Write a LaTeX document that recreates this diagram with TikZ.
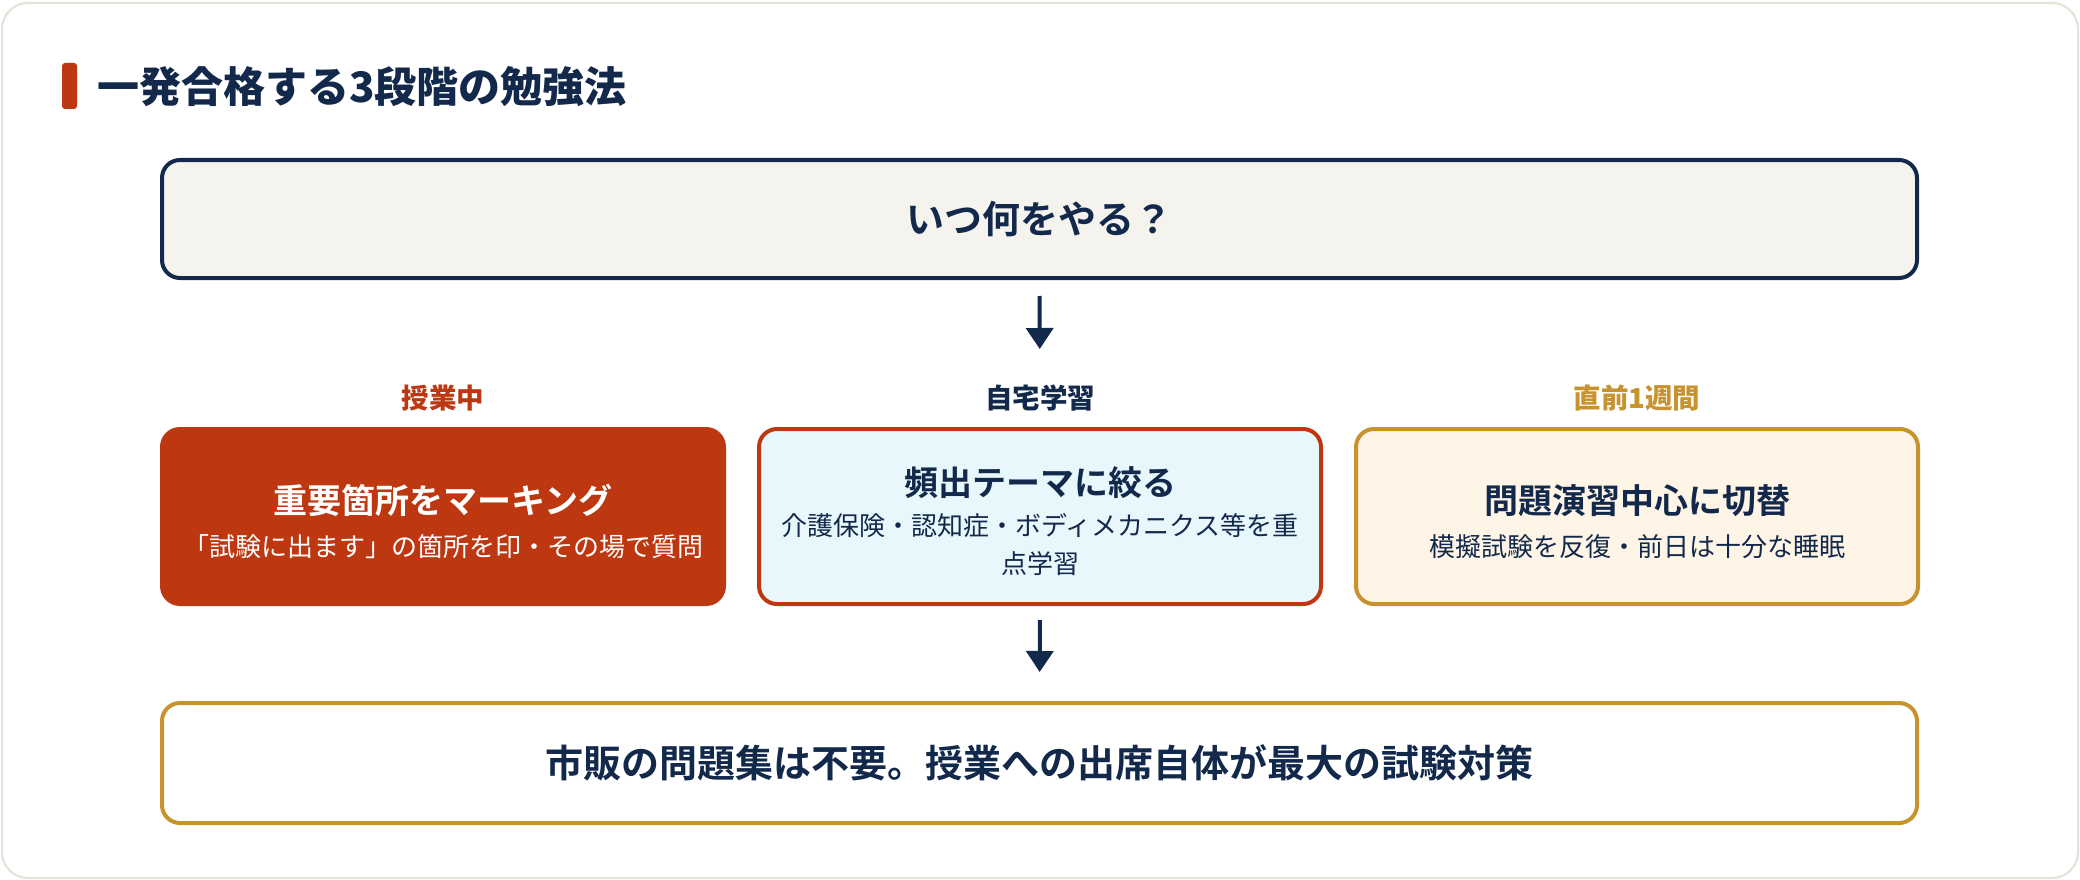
\documentclass[tikz,border=0pt]{standalone}
\usepackage{fontspec}
\setmainfont{Noto Sans CJK JP}[BoldFont={Noto Sans CJK JP Bold}]
\newfontfamily\heavyjp{Noto Sans CJK JP Black}
\usetikzlibrary{arrows.meta,calc}
\definecolor{navy}{HTML}{13294B}
\definecolor{rust}{HTML}{BD3810}
\definecolor{gold}{HTML}{C8922F}
\definecolor{qfill}{HTML}{F5F3EE}
\definecolor{bluefill}{HTML}{E8F7FC}
\definecolor{creamfill}{HTML}{FEF5E6}
\definecolor{cardline}{HTML}{E4E1D6}
\begin{document}
\begin{tikzpicture}[x=1pt,y=-1pt,
  panel/.style={rounded corners=18pt, line width=4pt, inner sep=0pt},
  ttl/.style={font=\fontsize{34pt}{40pt}\selectfont\bfseries, inner sep=0pt},
  subt/.style={font=\fontsize{26pt}{32pt}\selectfont, inner sep=0pt},
  lab/.style={font=\fontsize{27.5pt}{30pt}\selectfont\heavyjp, inner sep=0pt},
  big/.style={font=\fontsize{38pt}{44pt}\selectfont\bfseries, text=navy},
  arr/.style={draw=navy, line width=4pt, -{Triangle[width=27pt,length=21pt]}}
]
\useasboundingbox (0,0) rectangle (2080,880);
\fill[white] (0,0) rectangle (2080,880);
\draw[cardline, line width=2pt, fill=white, rounded corners=26pt] (2,3) rectangle (2078,878);

% title
\fill[rust, rounded corners=3pt] (62,63) rectangle (77,109);
\node[anchor=west, inner sep=0pt, text=navy, font=\fontsize{42pt}{48pt}\selectfont\heavyjp] (title) at (97,87) {一発合格する3段階の勉強法};

% top question box
\node[panel, draw=navy, fill=qfill, minimum width=1755pt, minimum height=118pt, big] (q) at (1039.5,219) {いつ何をやる？};

% labels
\node[lab, text=rust] (l1) at (443,398) {授業中};
\node[lab, text=navy] (l2) at (1040,398) {自宅学習};
\node[lab, text=gold] (l3) at (1637,398) {直前1週間};

% three boxes
\node[panel, draw=rust, fill=rust, minimum width=562pt, minimum height=175pt] (b1) at (443,516.5) {};
\node[panel, draw=rust, fill=bluefill, minimum width=562pt, minimum height=175pt] (b2) at (1040,516.5) {};
\node[panel, draw=gold, fill=creamfill, minimum width=562pt, minimum height=175pt] (b3) at (1637,516.5) {};

\node[ttl, text=white] (b1t) at ($(b1.center)+(0,-16)$) {重要箇所をマーキング};
\node[subt, text=white] (b1s) at ($(b1.center)+(0,30)$) {「試験に出ます」の箇所を印・その場で質問};

\node[ttl, text=navy] (b2t) at ($(b2.center)+(0,-34)$) {頻出テーマに絞る};
\node[subt, text=navy] (b2s) at ($(b2.center)+(0,9)$) {介護保険・認知症・ボディメカニクス等を重};
\node[subt, text=navy] (b2u) at ($(b2.center)+(0,47)$) {点学習};

\node[ttl, text=navy] (b3t) at ($(b3.center)+(0,-16)$) {問題演習中心に切替};
\node[subt, text=navy] (b3s) at ($(b3.center)+(0,30)$) {模擬試験を反復・前日は十分な睡眠};

% bottom box
\node[panel, draw=gold, fill=white, minimum width=1755pt, minimum height=120pt, big] (c) at (1039.5,763) {市販の問題集は不要。授業への出席自体が最大の試験対策};

% arrows
\draw[arr, shorten <=16pt, shorten >=78pt] (q.south) -- (b2.north);
\draw[arr, shorten <=14pt, shorten >=29pt] (b2.south) -- (c.north);
\end{tikzpicture}
\end{document}
